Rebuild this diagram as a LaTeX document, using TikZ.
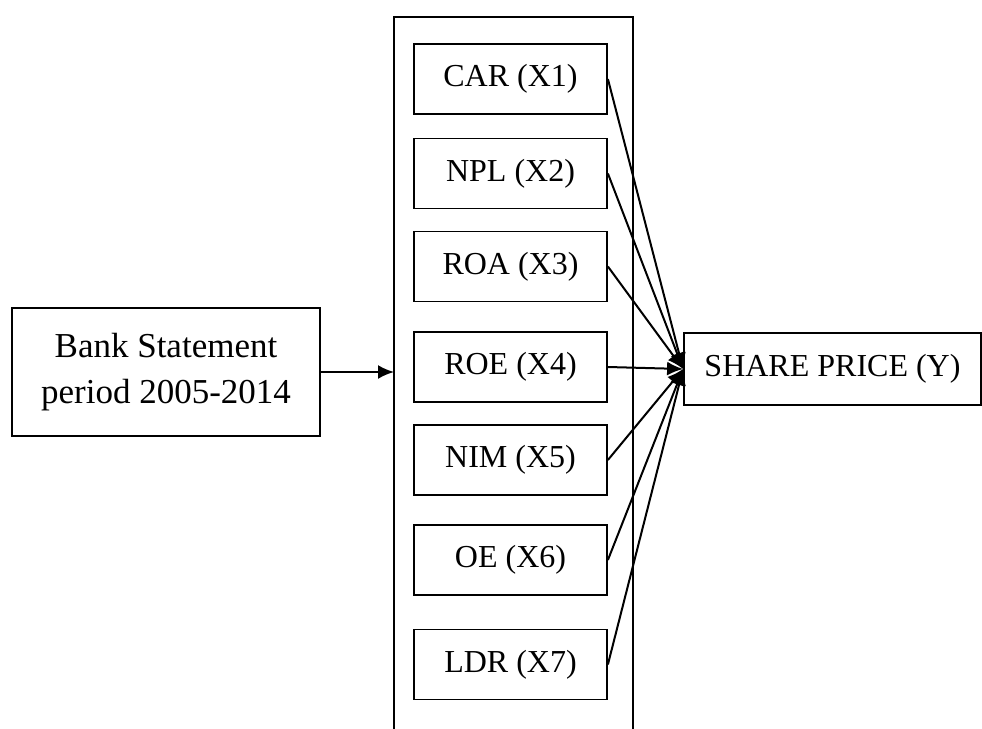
\documentclass[tikz,border=0pt]{standalone}
\usepackage{fontspec}
\setmainfont{Liberation Serif}
\usetikzlibrary{arrows.meta}

\begin{document}
\begin{tikzpicture}[x=0.5pt,y=-0.5pt]
\tikzset{varbox/.style={draw,line width=0.9pt,minimum width=96.5pt,minimum height=35pt,inner sep=0pt,font=\fontsize{16}{19}\selectfont}}
\tikzset{bankbox/.style={draw,line width=0.9pt,minimum width=154pt,minimum height=64pt,align=center,inner sep=0pt,font=\fontsize{17.5}{23}\selectfont}}
\tikzset{link/.style={line width=1pt,-{Latex[length=8pt,width=7pt]}}}

\useasboundingbox (0,0) rectangle (982,729);

% outer frame, cut at the bottom
\coordinate (frametl) at (394,17);
\coordinate (frametr) at (633,17);
\draw[line width=1.3pt] (394,735) -- (frametl) -- (frametr) -- (633,735);

\node[bankbox] (bank) at (166,372) {Bank Statement\\period 2005-2014};

\node[varbox] (car) at (510.5,79) {CAR (X1)};
\node[varbox] (npl) at (510.5,173.5) {NPL (X2)};
\node[varbox] (roa) at (510.5,266.5) {ROA (X3)};
\node[varbox] (roe) at (510.5,367) {ROE (X4)};
\node[varbox] (nim) at (510.5,460) {NIM (X5)};
\node[varbox] (oe) at (510.5,560) {OE (X6)};
\node[varbox] (ldr) at (510.5,664.5) {LDR (X7)};

\node[varbox,minimum width=148.5pt,minimum height=36pt] (price) at (832.5,369) {SHARE PRICE (Y)};

\draw[link] (bank.east) -- (bank.east -| frametl);
\foreach \v in {car,npl,roa,roe,nim,oe,ldr}
  \draw[link] (\v.east) -- (price.west);

\end{tikzpicture}
\end{document}
